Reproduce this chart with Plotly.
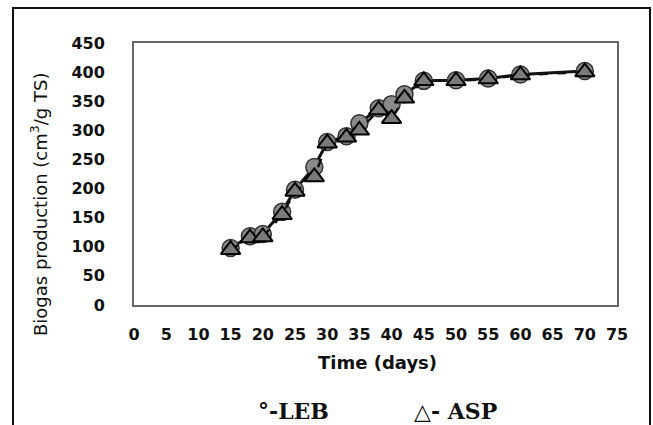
import plotly.graph_objects as go

# Digestion time (days) and cumulative biogas yield (cm3/g TS)
days = [15, 18, 20, 23, 25, 28, 30, 33, 35, 38, 40, 42, 45, 50, 55, 60, 70]
leb = [98, 118, 122, 160, 198, 237, 280, 290, 312, 338, 345, 362, 385, 386, 389, 396, 402]
asp = [95, 115, 117, 155, 195, 220, 278, 288, 300, 335, 320, 355, 385, 385, 388, 395, 400]

x_ticks = list(range(0, 80, 5))
y_ticks = list(range(0, 500, 50))

W, H = 653, 425
L, R, T, B = 134, 36, 43, 120
pw, ph = W - L - R, H - T - B


def px(x):
    return (x - L) / pw


def py(y):
    return (H - B - y) / ph


fig = go.Figure()
fig.add_trace(go.Scatter(
    x=days, y=leb, mode="lines+markers", name="LEB",
    line=dict(color="#111111", width=3),
    marker=dict(symbol="circle", size=17, color="#8a8a8a",
                line=dict(color="#333333", width=1.5)),
))
fig.add_trace(go.Scatter(
    x=days, y=asp, mode="lines+markers", name="ASP",
    line=dict(color="#111111", width=2.5, dash="dash"),
    marker=dict(symbol="triangle-up", size=17, color="#7a7a7a",
                line=dict(color="#000000", width=2)),
))

tick_font = dict(family="'DejaVu Sans', sans-serif", size=16, color="#111111", weight="bold")

fig.update_layout(
    width=W, height=H,
    margin=dict(l=L, r=R, t=T, b=B),
    paper_bgcolor="white", plot_bgcolor="white",
    showlegend=False,
    xaxis=dict(
        range=[0, 75], tickvals=x_ticks, ticktext=[str(v) for v in x_ticks],
        showgrid=False, zeroline=False, ticks="",
        showline=True, mirror=True, linecolor="#666666", linewidth=2,
        tickfont=tick_font, ticklabelstandoff=14,
    ),
    yaxis=dict(
        range=[0, 450], tickvals=y_ticks, ticktext=[str(v) for v in y_ticks],
        showgrid=False, zeroline=False, ticks="",
        showline=True, mirror=True, linecolor="#666666", linewidth=2,
        tickfont=tick_font, ticklabelstandoff=24,
    ),
    shapes=[
        # outer chart frame
        dict(type="rect", xref="paper", yref="paper",
             x0=px(13), x1=px(650), y0=py(440), y1=py(8),
             line=dict(color="#111111", width=2), fillcolor="rgba(0,0,0,0)",
             layer="below"),
    ],
    annotations=[
        dict(text="Biogas production (cm<sup>3</sup>/g TS)", textangle=-90,
             xref="paper", yref="paper", x=px(39), y=py(205),
             showarrow=False, xanchor="center", yanchor="middle",
             font=dict(family="'DejaVu Sans', sans-serif", size=18, color="#111111")),
        dict(text="Time (days)", xref="paper", yref="paper",
             x=px(377), y=py(362), showarrow=False,
             xanchor="center", yanchor="middle",
             font=dict(family="'DejaVu Sans', sans-serif", size=18, color="#111111", weight="bold")),
        dict(text="°-LEB", xref="paper", yref="paper",
             x=px(293), y=py(411), showarrow=False,
             xanchor="center", yanchor="middle",
             font=dict(family="'DejaVu Serif', serif", size=22, color="#111111", weight="bold")),
        dict(text="△- ASP", xref="paper", yref="paper",
             x=px(455), y=py(411), showarrow=False,
             xanchor="center", yanchor="middle",
             font=dict(family="'DejaVu Serif', serif", size=22, color="#111111", weight="bold")),
    ],
)

fig.write_html("out.html")
